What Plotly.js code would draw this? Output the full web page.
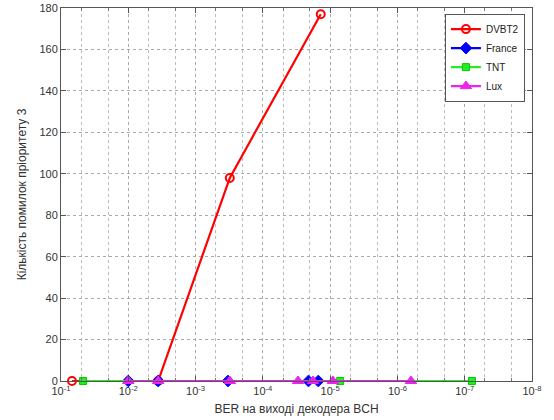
<!DOCTYPE html>
<html>
<head>
<meta charset="utf-8">
<script src="https://cdn.plot.ly/plotly-3.0.1.min.js"></script>
<style>html,body{margin:0;padding:0;background:#fff;}#chart{width:554px;height:420px;}</style>
</head>
<body>
<div id="chart"></div>
<script>
// Data
var seriesNames = ['DVBT2', 'France', 'TNT', 'Lux'];

var dvbt2X = [0.0687, 0.0036, 3.1e-4, 1.38e-5];
var dvbt2Y = [0, 0, 98, 177];

var franceX = [0.01, 0.0036, 3.3e-4, 2.1e-5, 1.5e-5];
var franceY = [0, 0, 0, 0, 0];

var tntX = [0.047, 7.1e-6, 7.8e-8];
var tntY = [0, 0, 0];

var luxX = [0.01, 0.0036, 3.1e-4, 3.0e-5, 1.8e-5, 9.1e-6, 6.3e-7];
var luxY = [0, 0, 0, 0, 0, 0, 0];

var xTickVals = [1e-1, 1e-2, 1e-3, 1e-4, 1e-5, 1e-6, 1e-7, 1e-8];
var xTickText = ['10<sup>-1</sup>', '10<sup>-2</sup>', '10<sup>-3</sup>', '10<sup>-4</sup>',
                 '10<sup>-5</sup>', '10<sup>-6</sup>', '10<sup>-7</sup>', '10<sup>-8</sup>'];
var yTickVals = [0, 20, 40, 60, 80, 100, 120, 140, 160, 180];

var xTitle = 'BER на виході декодера BCH';
var yTitle = 'Кількість помилок пріоритету 3';

var traces = [
  {x: dvbt2X, y: dvbt2Y, name: seriesNames[0], mode: 'lines+markers', cliponaxis: false,
   line: {color: '#ff0000', width: 2.2},
   marker: {symbol: 'circle-open', size: 8, color: '#ff0000', line: {width: 2, color: '#ff0000'}}},
  {x: franceX, y: franceY, name: seriesNames[1], mode: 'lines+markers', cliponaxis: false,
   line: {color: '#0000ff', width: 2.2},
   marker: {symbol: 'diamond', size: 9, color: '#0000ff', line: {width: 1, color: '#0000ff'}}},
  {x: tntX, y: tntY, name: seriesNames[2], mode: 'lines+markers', cliponaxis: false,
   line: {color: '#22ee22', width: 2.2},
   marker: {symbol: 'square', size: 7, color: '#22ee22', line: {width: 1, color: '#00cc00'}}},
  {x: luxX, y: luxY, name: seriesNames[3], mode: 'lines+markers', cliponaxis: false,
   line: {color: '#ee22ee', width: 2.2},
   marker: {symbol: 'triangle-up', size: 10, color: '#ee22ee', line: {width: 1, color: '#ee22ee'}}}
];

var layout = {
  width: 554, height: 420,
  margin: {l: 61, r: 22, t: 8, b: 39},
  paper_bgcolor: '#ffffff', plot_bgcolor: '#ffffff',
  font: {family: 'Liberation Sans, Arial, sans-serif', size: 11, color: '#333'},
  showlegend: true,
  legend: {x: 0.985, y: 0.985, xanchor: 'right', yanchor: 'top',
           bgcolor: '#ffffff', bordercolor: '#555', borderwidth: 1,
           font: {size: 10, color: '#222'}, tracegroupgap: 0, itemwidth: 30,
           entrywidth: 50},
  xaxis: {
    type: 'log', range: [-1, -8], autorange: false,
    tickvals: xTickVals, ticktext: xTickText,
    ticks: 'inside', ticklen: 5, tickcolor: '#555',
    showline: true, linecolor: '#555', linewidth: 1, mirror: 'ticks',
    showgrid: true, gridcolor: '#aaa', griddash: 'dot', gridwidth: 1,
    minor: {ticks: 'inside', ticklen: 3, tickcolor: '#777', showgrid: true,
            gridcolor: '#bbb', griddash: 'dot', gridwidth: 1},
    zeroline: false,
    tickfont: {size: 11, color: '#333'},
    title: {text: xTitle, font: {size: 12, color: '#333'}, standoff: 8},
    automargin: false
  },
  yaxis: {
    range: [0, 180], autorange: false,
    tickvals: yTickVals,
    ticks: 'inside', ticklen: 5, tickcolor: '#555',
    showline: true, linecolor: '#555', linewidth: 1, mirror: 'ticks',
    showgrid: true, gridcolor: '#aaa', griddash: 'dot', gridwidth: 1,
    zeroline: false,
    tickfont: {size: 11, color: '#333'},
    title: {text: yTitle, font: {size: 12, color: '#333'}, standoff: 10},
    automargin: false
  }
};

Plotly.newPlot('chart', traces, layout, {displayModeBar: false, staticPlot: true});
</script>
</body>
</html>
